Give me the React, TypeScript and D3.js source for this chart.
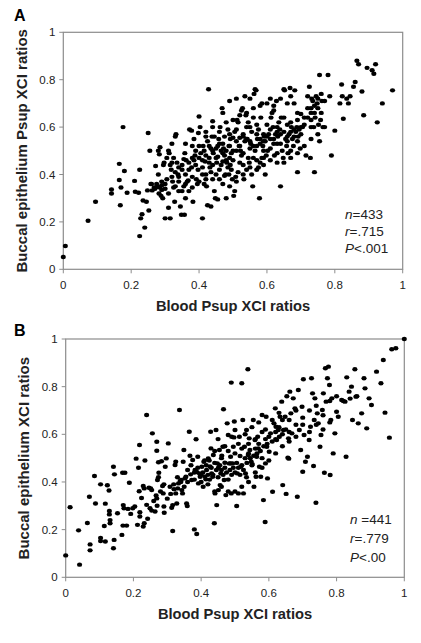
import React from "react";
import * as d3 from "d3";

// Tick labels
const xTicks = [0, 0.2, 0.4, 0.6, 0.8, 1];
const yTicks = [0, 0.2, 0.4, 0.6, 0.8, 1];
const tickLabels = ["0", "0.2", "0.4", "0.6", "0.8", "1"];

// Panel A: [blood, buccal]
const pointsA: [number, number][] = [
  [0.0,0.052],[0.006,0.098],[0.073,0.205],[0.095,0.285],[0.142,0.337],[0.142,0.320],[0.168,0.270],[0.165,0.445],[0.165,0.377],[0.176,0.600],[0.180,0.415],[0.170,0.345],[0.188,0.323],
  [0.21,0.373],[0.212,0.327],[0.222,0.323],[0.225,0.42],[0.225,0.14],[0.228,0.215],[0.232,0.232],[0.240,0.176],[0.235,0.290],[0.245,0.285],[0.250,0.575],[0.252,0.248],[0.248,0.333],[0.258,0.36],[0.262,0.333],[0.255,0.50],[0.268,0.345],[0.272,0.436],[0.275,0.36],[0.28,0.50],[0.283,0.485],[0.285,0.515],[0.282,0.32],[0.288,0.31],[0.29,0.355],[0.293,0.30],[0.295,0.44],[0.297,0.45],[0.29,0.335],[0.285,0.345],[0.278,0.347],
  [0.30,0.215],[0.315,0.215],[0.31,0.26],[0.30,0.36],[0.305,0.38],[0.31,0.50],[0.312,0.49],[0.318,0.42],[0.32,0.39],[0.322,0.37],[0.325,0.345],[0.328,0.285],[0.33,0.56],[0.332,0.57],[0.335,0.45],[0.338,0.40],[0.34,0.33],[0.345,0.265],[0.348,0.23],[0.357,0.23],[0.35,0.44],[0.355,0.465],[0.358,0.49],[0.36,0.53],[0.362,0.46],[0.365,0.37],[0.368,0.375],[0.37,0.42],[0.372,0.59],[0.378,0.585],[0.378,0.43],[0.38,0.345],[0.382,0.285],[0.385,0.46],[0.388,0.48],[0.39,0.50],[0.392,0.38],[0.395,0.36],[0.398,0.575],[0.40,0.645],[0.397,0.42],[0.385,0.55],[0.37,0.33],[0.36,0.30],[0.355,0.35],[0.34,0.39],[0.33,0.41],[0.325,0.47],[0.315,0.44],[0.305,0.47],[0.32,0.53],
  [0.403,0.60],[0.405,0.49],[0.41,0.215],[0.41,0.46],[0.412,0.52],[0.415,0.50],[0.418,0.455],[0.42,0.38],[0.422,0.35],[0.425,0.54],[0.428,0.76],[0.43,0.47],[0.432,0.43],[0.435,0.41],[0.438,0.56],[0.44,0.625],[0.442,0.49],[0.445,0.33],[0.448,0.30],[0.455,0.295],[0.452,0.45],[0.455,0.52],[0.458,0.55],[0.46,0.42],[0.462,0.60],[0.465,0.44],[0.468,0.68],[0.47,0.66],[0.472,0.51],[0.475,0.48],[0.478,0.40],[0.48,0.30],[0.482,0.45],[0.485,0.59],[0.488,0.52],[0.49,0.71],[0.492,0.55],[0.495,0.42],[0.498,0.38],[0.50,0.46],[0.41,0.40],[0.415,0.36],[0.425,0.27],[0.435,0.265],[0.435,0.51],[0.445,0.56],[0.455,0.475],[0.46,0.38],[0.47,0.455],[0.475,0.56],[0.48,0.50],[0.485,0.43],[0.49,0.47],[0.495,0.49],[0.40,0.52],[0.42,0.56],[0.44,0.44],[0.45,0.40],[0.465,0.50],[0.475,0.395],[0.488,0.40],[0.492,0.44],
  [0.50,0.555],[0.502,0.31],[0.505,0.33],[0.508,0.39],[0.51,0.72],[0.512,0.63],[0.515,0.62],[0.518,0.52],[0.52,0.555],[0.522,0.50],[0.525,0.67],[0.528,0.68],[0.53,0.44],[0.532,0.38],[0.535,0.73],[0.538,0.65],[0.54,0.60],[0.542,0.55],[0.545,0.47],[0.548,0.45],[0.55,0.72],[0.552,0.53],[0.555,0.58],[0.558,0.35],[0.56,0.47],[0.562,0.74],[0.565,0.76],[0.568,0.755],[0.57,0.61],[0.572,0.55],[0.575,0.43],[0.578,0.30],[0.58,0.45],[0.582,0.64],[0.585,0.70],[0.588,0.52],[0.59,0.57],[0.592,0.56],[0.595,0.40],[0.598,0.48],[0.505,0.58],[0.515,0.41],[0.525,0.48],[0.535,0.54],[0.545,0.62],[0.555,0.40],[0.565,0.50],[0.575,0.59],[0.585,0.47],[0.595,0.54],[0.51,0.50],[0.52,0.45],[0.53,0.57],[0.54,0.42],[0.55,0.51],[0.56,0.64],[0.57,0.42],[0.58,0.53],[0.59,0.44],[0.60,0.61],
  [0.602,0.50],[0.605,0.57],[0.61,0.72],[0.612,0.64],[0.615,0.66],[0.618,0.60],[0.62,0.53],[0.622,0.48],[0.625,0.57],[0.628,0.71],[0.63,0.45],[0.632,0.56],[0.635,0.62],[0.638,0.59],[0.64,0.35],[0.642,0.64],[0.645,0.50],[0.648,0.47],[0.65,0.76],[0.652,0.755],[0.655,0.55],[0.658,0.52],[0.66,0.61],[0.662,0.49],[0.665,0.57],[0.668,0.765],[0.67,0.73],[0.672,0.60],[0.675,0.55],[0.678,0.52],[0.68,0.70],[0.682,0.755],[0.685,0.58],[0.688,0.60],[0.69,0.41],[0.692,0.56],[0.695,0.59],[0.698,0.51],[0.61,0.55],[0.62,0.67],[0.63,0.53],[0.64,0.57],[0.66,0.54],[0.67,0.50],[0.68,0.59],[0.69,0.54],[0.70,0.60],
  [0.70,0.655],[0.705,0.60],[0.715,0.48],[0.72,0.73],[0.725,0.77],[0.728,0.47],[0.73,0.66],[0.732,0.72],[0.735,0.71],[0.738,0.60],[0.74,0.41],[0.742,0.64],[0.745,0.73],[0.748,0.70],[0.75,0.68],[0.752,0.61],[0.755,0.82],[0.755,0.54],[0.758,0.63],[0.76,0.74],[0.762,0.71],[0.765,0.60],[0.78,0.82],[0.785,0.73],[0.79,0.48],[0.80,0.585],[0.72,0.64],[0.73,0.68],[0.74,0.66],
  [0.815,0.70],[0.82,0.78],[0.822,0.73],[0.825,0.635],[0.835,0.72],[0.84,0.70],[0.845,0.73],[0.855,0.77],[0.86,0.79],[0.865,0.88],[0.87,0.865],[0.88,0.75],[0.885,0.65],[0.895,0.85],[0.91,0.84],[0.915,0.825],[0.92,0.865],[0.925,0.62],[0.94,0.70],[0.97,0.755],
  [0.35,0.42],[0.36,0.40],[0.37,0.45],[0.38,0.47],[0.39,0.44],[0.40,0.47],[0.41,0.43],[0.42,0.48],[0.43,0.52],[0.44,0.50],[0.45,0.47],[0.46,0.53],[0.47,0.49],[0.48,0.46],[0.49,0.52],[0.50,0.50],[0.51,0.54],[0.52,0.52],[0.53,0.49],[0.54,0.55],[0.55,0.54],[0.56,0.52],[0.57,0.57],[0.58,0.55],[0.59,0.50],[0.60,0.56],[0.61,0.59],[0.62,0.55],[0.63,0.60],[0.64,0.53],[0.65,0.58],[0.66,0.56],[0.67,0.62],[0.68,0.56],[0.69,0.63],[0.70,0.57],[0.71,0.61],[0.72,0.68],[0.73,0.63],[0.75,0.72],[0.33,0.35],[0.34,0.37],[0.35,0.33],[0.30,0.34],[0.31,0.32],[0.29,0.37],[0.27,0.34],[0.26,0.36],[0.28,0.40],[0.32,0.45],[0.38,0.52],[0.42,0.58],[0.44,0.60],[0.46,0.58],[0.48,0.62],[0.50,0.63],[0.52,0.65],[0.54,0.66],[0.56,0.68],[0.58,0.69],[0.60,0.70],[0.62,0.69],[0.64,0.72],[0.66,0.70],[0.47,0.36],[0.49,0.35],[0.51,0.37],[0.53,0.40],[0.55,0.43],[0.57,0.46],[0.59,0.47],[0.61,0.46],[0.63,0.49],[0.65,0.45],[0.67,0.47],[0.69,0.49],[0.71,0.52],[0.73,0.55],[0.75,0.57],[0.77,0.60],[0.44,0.38],[0.42,0.40],[0.40,0.37],[0.38,0.39],[0.36,0.36],[0.34,0.43],[0.43,0.45],[0.45,0.51],[0.47,0.53],[0.49,0.57],[0.51,0.59],[0.53,0.56],[0.55,0.60],[0.57,0.52],[0.59,0.54],[0.61,0.51],[0.63,0.58],[0.65,0.64],[0.67,0.58],[0.69,0.66],[0.71,0.64],[0.73,0.60],[0.76,0.66],[0.74,0.69],[0.77,0.71]
];

// Panel B: [blood, buccal]
const pointsB: [number, number][] = [
  [0,0.092],[0.013,0.294],[0.038,0.197],[0.041,0.053],[0.064,0.228],[0.07,0.338],[0.072,0.138],[0.072,0.113],[0.085,0.425],[0.088,0.31],
  [0.103,0.39],[0.103,0.165],[0.103,0.152],[0.114,0.215],[0.117,0.309],[0.117,0.15],[0.123,0.386],[0.128,0.364],[0.129,0.278],[0.129,0.264],[0.131,0.24],[0.131,0.227],[0.141,0.464],[0.141,0.122],[0.143,0.157],[0.144,0.432],[0.153,0.269],[0.166,0.178],[0.168,0.439],[0.175,0.439],[0.170,0.303],[0.172,0.29],[0.169,0.217],[0.18,0.217],[0.188,0.397],[0.184,0.287],[0.192,0.266],[0.198,0.29],
  [0.208,0.498],[0.204,0.297],[0.212,0.22],[0.218,0.555],[0.215,0.46],[0.217,0.361],[0.219,0.273],[0.219,0.255],[0.224,0.333],[0.229,0.383],[0.232,0.373],[0.232,0.227],[0.229,0.213],[0.234,0.49],[0.239,0.681],[0.239,0.304],[0.242,0.246],[0.246,0.376],[0.251,0.373],[0.254,0.366],[0.249,0.29],[0.254,0.28],[0.256,0.604],[0.264,0.276],[0.267,0.343],[0.269,0.331],[0.269,0.569],[0.269,0.531],[0.271,0.408],[0.274,0.42],[0.274,0.483],[0.275,0.439],[0.283,0.487],[0.286,0.383],[0.288,0.352],[0.29,0.297],[0.291,0.271],[0.294,0.464],[0.297,0.499],
  [0.303,0.562],[0.308,0.38],[0.313,0.292],[0.316,0.303],[0.316,0.194],[0.319,0.39],[0.323,0.471],[0.325,0.485],[0.325,0.352],[0.328,0.31],[0.331,0.373],[0.333,0.394],[0.336,0.702],[0.338,0.404],[0.341,0.408],[0.343,0.366],[0.345,0.352],[0.347,0.485],[0.349,0.534],[0.352,0.415],[0.355,0.422],[0.357,0.31],[0.359,0.299],[0.365,0.611],[0.367,0.51],[0.369,0.432],[0.372,0.408],[0.375,0.492],[0.38,0.201],[0.387,0.182],[0.382,0.45],[0.387,0.442],[0.385,0.579],[0.39,0.506],[0.392,0.394],[0.395,0.436],[0.397,0.422],
  [0.402,0.464],[0.406,0.38],[0.408,0.485],[0.411,0.422],[0.414,0.411],[0.416,0.45],[0.421,0.499],[0.424,0.49],[0.426,0.465],[0.428,0.611],[0.429,0.541],[0.431,0.436],[0.434,0.422],[0.436,0.513],[0.439,0.227],[0.441,0.352],[0.444,0.618],[0.446,0.303],[0.448,0.478],[0.451,0.46],[0.451,0.366],[0.454,0.534],[0.456,0.387],[0.458,0.436],[0.461,0.51],[0.464,0.548],[0.466,0.705],[0.468,0.408],[0.47,0.481],[0.473,0.345],[0.477,0.646],[0.48,0.597],[0.483,0.478],[0.487,0.478],[0.493,0.478],[0.487,0.506],[0.489,0.817],[0.489,0.352],[0.495,0.548],[0.497,0.587],[0.498,0.654],
  [0.5,0.618],[0.505,0.299],[0.507,0.436],[0.51,0.352],[0.513,0.59],[0.515,0.509],[0.517,0.464],[0.52,0.814],[0.523,0.66],[0.525,0.352],[0.528,0.548],[0.531,0.436],[0.534,0.42],[0.534,0.618],[0.538,0.873],[0.539,0.513],[0.542,0.583],[0.544,0.534],[0.548,0.485],[0.551,0.475],[0.554,0.66],[0.556,0.38],[0.559,0.576],[0.562,0.422],[0.564,0.506],[0.567,0.59],[0.569,0.541],[0.572,0.464],[0.576,0.422],[0.58,0.681],[0.584,0.324],[0.589,0.232],[0.59,0.478],[0.592,0.674],[0.594,0.548],[0.596,0.415],
  [0.601,0.527],[0.605,0.604],[0.611,0.359],[0.615,0.646],[0.619,0.709],[0.621,0.632],[0.623,0.576],[0.628,0.618],[0.631,0.59],[0.633,0.674],[0.638,0.737],[0.641,0.387],[0.643,0.618],[0.648,0.674],[0.651,0.35],[0.653,0.76],[0.656,0.502],[0.659,0.498],[0.658,0.583],[0.662,0.779],[0.665,0.688],[0.668,0.604],[0.672,0.751],[0.677,0.709],[0.684,0.338],[0.687,0.786],[0.69,0.618],[0.694,0.534],[0.698,0.716],
  [0.7,0.443],[0.702,0.831],[0.704,0.597],[0.708,0.485],[0.714,0.506],[0.719,0.576],[0.723,0.632],[0.726,0.835],[0.729,0.772],[0.732,0.467],[0.734,0.66],[0.736,0.751],[0.739,0.313],[0.743,0.688],[0.746,0.646],[0.751,0.548],[0.754,0.597],[0.758,0.702],[0.761,0.772],[0.764,0.439],[0.767,0.877],[0.769,0.737],[0.773,0.835],[0.776,0.884],[0.779,0.807],[0.781,0.429],[0.783,0.66],[0.786,0.751],[0.79,0.52],[0.795,0.604],
  [0.8,0.695],[0.805,0.674],[0.815,0.744],[0.825,0.737],[0.828,0.506],[0.83,0.839],[0.837,0.779],[0.844,0.8],[0.847,0.66],[0.854,0.873],[0.857,0.758],[0.864,0.646],[0.874,0.688],[0.881,0.835],[0.884,0.793],[0.889,0.625],[0.896,0.751],[0.903,0.723],[0.918,0.863],[0.931,0.814],[0.938,0.912],[0.943,0.691],[0.956,0.586],[0.963,0.957],[0.975,0.961],[1.0,1.0],
  [0.405,0.44],[0.41,0.49],[0.415,0.47],[0.42,0.43],[0.425,0.41],[0.43,0.46],[0.435,0.43],[0.44,0.48],[0.445,0.45],[0.45,0.42],[0.455,0.47],[0.46,0.45],[0.465,0.43],[0.47,0.46],[0.475,0.44],[0.48,0.41],[0.485,0.45],[0.49,0.43],[0.495,0.46],[0.50,0.44],[0.505,0.48],[0.51,0.46],[0.515,0.43],[0.52,0.47],[0.525,0.45],[0.53,0.50],[0.535,0.48],[0.54,0.52],[0.545,0.50],[0.55,0.47],[0.555,0.51],[0.56,0.54],[0.565,0.52],[0.57,0.56],[0.575,0.53],[0.58,0.50],[0.585,0.55],[0.59,0.58],[0.595,0.56],[0.60,0.59],[0.61,0.57],[0.62,0.61],[0.63,0.63],[0.64,0.60],[0.65,0.62],[0.36,0.45],[0.37,0.47],[0.38,0.44],[0.39,0.46],[0.40,0.43],[0.34,0.40],[0.35,0.38],[0.33,0.42],[0.32,0.37],[0.31,0.35],[0.30,0.33],[0.29,0.39],[0.28,0.36],[0.27,0.30],[0.26,0.32],[0.45,0.58],[0.47,0.55],[0.49,0.59],[0.51,0.56],[0.53,0.60],[0.55,0.63],[0.57,0.65],[0.59,0.62],[0.61,0.66],[0.63,0.69],[0.66,0.66],[0.68,0.64],[0.70,0.67],[0.72,0.70],[0.74,0.72],[0.76,0.68],[0.78,0.74],[0.80,0.76],[0.82,0.74],[0.84,0.75],[0.86,0.76],[0.50,0.36],[0.52,0.38],[0.54,0.40],[0.56,0.44],[0.58,0.46],[0.60,0.49],[0.62,0.52],[0.64,0.55],[0.66,0.57],[0.68,0.59],[0.48,0.36],[0.46,0.38],[0.44,0.36],[0.42,0.39],[0.40,0.40],[0.38,0.41],[0.36,0.40],[0.44,0.53],[0.46,0.50],[0.48,0.53],[0.50,0.52],[0.52,0.54],[0.54,0.56],[0.56,0.58],[0.58,0.61],[0.62,0.58],[0.64,0.66],[0.66,0.61],[0.68,0.70],[0.70,0.64],[0.72,0.61],[0.74,0.64],[0.76,0.62],[0.78,0.65]
];

const statsA = ["433", ".715", "<.001"];
const statsB = ["441", ".779", "<.00"];
const statsYA = [219, 236, 252.5];
const statsYB = [523.5, 542.5, 561.5];

const FONT = "Liberation Sans, Arial, sans-serif";

type PanelProps = {
  points: [number, number][];
  left: number; right: number; top: number; bottom: number;
  letter: string; letterY: number;
  yTitle: string; yTitleX: number;
  xTitleY: number;
  stats: string[]; statsX: number; statsY: number[]; nSep: string;
};

function Panel(p: PanelProps) {
  const x = d3.scaleLinear().domain([0, 1]).range([p.left, p.right]);
  const y = d3.scaleLinear().domain([0, 1]).range([p.bottom, p.top]);
  const axisColor = "#8c8c8c";
  const midY = (p.top + p.bottom) / 2;
  const midX = (p.left + p.right) / 2;
  return (
    <g>
      <text x={14} y={p.letterY} fontFamily={FONT} fontWeight="bold" fontSize={16}>{p.letter}</text>
      <rect x={p.left} y={p.top} width={p.right - p.left} height={p.bottom - p.top} fill="none" stroke={axisColor} strokeWidth={1.2} />
      {yTicks.map((t, i) => (
        <g key={"y" + i}>
          <line x1={p.left - 4} x2={p.left} y1={y(t)} y2={y(t)} stroke={axisColor} strokeWidth={1} />
          <text x={p.left - 8} y={y(t) + 4} textAnchor="end" fontFamily={FONT} fontSize={11.5} fill="#222">{tickLabels[i]}</text>
        </g>
      ))}
      {xTicks.map((t, i) => (
        <g key={"x" + i}>
          <line x1={x(t)} x2={x(t)} y1={p.bottom} y2={p.bottom + 4} stroke={axisColor} strokeWidth={1} />
          <text x={x(t)} y={p.bottom + 20} textAnchor="middle" fontFamily={FONT} fontSize={11.5} fill="#222">{tickLabels[i]}</text>
        </g>
      ))}
      {p.points.map((d, i) => (
        <ellipse key={i} cx={x(d[0])} cy={y(d[1])} rx={2.6} ry={2.2} fill="#000" />
      ))}
      <text x={midX} y={p.xTitleY} textAnchor="middle" fontFamily={FONT} fontWeight="bold" fontSize={14.7} fill="#222">Blood Psup XCI ratios</text>
      <text transform={`translate(${p.yTitleX},${midY}) rotate(-90)`} textAnchor="middle" fontFamily={FONT} fontWeight="bold" fontSize={15} fill="#222">{p.yTitle}</text>
      <text x={p.statsX} y={p.statsY[0]} fontFamily={FONT} fontSize={13.5} fill="#222"><tspan fontStyle="italic">n</tspan>{p.nSep}={p.stats[0]}</text>
      <text x={p.statsX} y={p.statsY[1]} fontFamily={FONT} fontSize={13.5} fill="#222"><tspan fontStyle="italic">r</tspan>={p.stats[1]}</text>
      <text x={p.statsX} y={p.statsY[2]} fontFamily={FONT} fontSize={13.5} fill="#222"><tspan fontStyle="italic">P</tspan>{p.stats[2]}</text>
    </g>
  );
}

export default function App() {
  return (
    <svg width={421} height={643} style={{ position: "absolute", left: 0, top: 0, background: "#fff" }}>
      <Panel points={pointsA} left={63.3} right={402.7} top={32.3} bottom={269.3}
        letter="A" letterY={21} yTitle="Buccal epithelium Psup XCI ratios" yTitleX={27}
        xTitleY={311} stats={statsA} statsX={345} statsY={statsYA} nSep="" />
      <Panel points={pointsB} left={65.7} right={404.3} top={339} bottom={577.3}
        letter="B" letterY={336} yTitle="Buccal epithelium XCI ratios" yTitleX={29}
        xTitleY={619} stats={statsB} statsX={350} statsY={statsYB} nSep=" " />
    </svg>
  );
}
